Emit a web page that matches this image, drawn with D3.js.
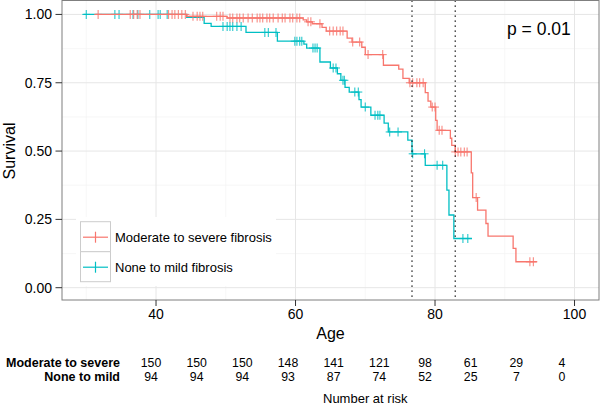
<!DOCTYPE html>
<html lang="en">
  <head>
    <meta charset="UTF-8" />
    <title>Survival by fibrosis group</title>
    <script src="https://d3js.org/d3.v7.min.js"></script>
    <style>
      body {
        margin: 0;
        padding: 0;
        background: #ffffff;
        font-family: "Liberation Sans", Arial, Helvetica, sans-serif;
      }
      svg text {
        font-family: "Liberation Sans", Arial, Helvetica, sans-serif;
      }
    </style>
  </head>
  <body>
    <div id="chart"></div>
    <script>
      const width = 600;
      const height = 406;

      // group names
      const groups = ["Moderate to severe fibrosis", "None to mild fibrosis"];
      const riskLabels = ["Moderate to severe", "None to mild"];
      const groupColors = ["#F8766D", "#00BFC4"];

      // step curve: [age, survival after the event]
      const redStart = 31.3;
      const redEnd = 94.6;
      const redDrops = [
        [44.4, 0.993], [50.2, 0.987], [61.1, 0.98], [61.6, 0.973], [62.4, 0.966],
        [63.8, 0.953], [64.4, 0.939], [67.4, 0.913], [68.1, 0.899], [69.5, 0.88],
        [70.0, 0.853], [72.6, 0.814], [74.8, 0.8], [75.4, 0.766], [76.3, 0.75],
        [78.6, 0.714], [79.0, 0.683], [79.4, 0.661], [80.1, 0.612], [80.3, 0.576],
        [82.2, 0.547], [82.4, 0.521], [82.9, 0.497], [85.2, 0.42], [85.4, 0.33],
        [86.1, 0.284], [87.3, 0.235], [87.6, 0.189], [91.2, 0.144], [91.6, 0.095]
      ];
      const redCensor = [
        31.7, 36.3, 36.8, 37.3, 37.7, 41.8, 42.3, 42.7, 43.2, 43.7, 44.2, 45.3,
        45.9, 46.3, 46.7, 48.7, 49.2, 49.6, 50.6, 51.0, 51.6, 52.0, 52.5, 53.2,
        53.8, 54.5, 54.9, 55.3, 55.9, 56.3, 56.8, 57.5, 58.1, 58.5, 59.2, 59.6,
        60.2, 60.6, 61.8, 62.2, 63.5, 64.9, 65.4, 65.9, 66.4, 66.8, 68.2, 69.2,
        70.4, 72.5, 76.4, 76.8, 77.4, 77.8, 78.3, 79.6, 80.0, 80.6, 81.0, 82.9,
        83.3, 83.7, 84.2, 84.6, 85.9, 93.6, 94.1
      ];

      const tealStart = 29.6;
      const tealEnd = 85.3;
      const tealDrops = [
        [44.4, 0.989], [46.9, 0.967], [47.9, 0.956], [52.9, 0.934], [57.4, 0.902],
        [61.2, 0.891], [61.6, 0.877], [63.5, 0.826], [65.0, 0.804], [66.0, 0.783],
        [66.5, 0.759], [67.1, 0.733], [67.7, 0.716], [69.1, 0.688], [69.4, 0.661],
        [70.8, 0.631], [72.7, 0.602], [73.3, 0.57], [76.1, 0.54], [76.7, 0.49],
        [78.6, 0.448], [81.7, 0.357], [82.0, 0.266], [82.7, 0.18]
      ];
      const tealCensor = [
        30.0, 34.1, 34.7, 36.7, 37.4, 39.1, 40.3, 40.6, 41.6, 49.6, 50.2, 50.6,
        51.0, 51.6, 52.2, 55.6, 56.1, 57.2, 59.9, 60.2, 60.6, 60.9, 62.5, 62.8,
        63.1, 65.4, 65.8, 66.8, 67.0, 68.5, 69.0, 70.0, 71.4, 71.8, 72.1, 73.5,
        74.7, 76.8, 78.5, 80.3, 81.1, 84.0, 84.7
      ];

      // median survival reference lines
      const medianAges = [76.7, 82.9];

      const xTicks = [40, 60, 80, 100];
      const xMinor = [30, 50, 70, 90];
      const yTicks = [0, 0.25, 0.5, 0.75, 1];
      const yMinor = [0.125, 0.375, 0.625, 0.875];

      // number at risk table
      const riskRed = [150, 150, 150, 148, 141, 121, 98, 61, 29, 4];
      const riskTeal = [94, 94, 94, 93, 87, 74, 52, 25, 7, 0];

      const pLabel = "p = 0.01";

      const panel = { left: 62, right: 599, top: 0.5, bottom: 300 };

      const x = d3.scaleLinear().domain([26.52, 103.51]).range([panel.left, panel.right]);
      const y = d3.scaleLinear().domain([-0.045, 1.051]).range([panel.bottom, panel.top]);

      const svg = d3
        .select("#chart")
        .append("svg")
        .attr("width", width)
        .attr("height", height);

      // grid
      const grid = svg.append("g");
      grid
        .selectAll(".vminor")
        .data(xMinor)
        .enter()
        .append("line")
        .attr("x1", (d) => x(d))
        .attr("x2", (d) => x(d))
        .attr("y1", panel.top)
        .attr("y2", panel.bottom)
        .attr("stroke", "#f3f3f3")
        .attr("stroke-width", 0.7);
      grid
        .selectAll(".hminor")
        .data(yMinor)
        .enter()
        .append("line")
        .attr("x1", panel.left)
        .attr("x2", panel.right)
        .attr("y1", (d) => y(d))
        .attr("y2", (d) => y(d))
        .attr("stroke", "#f3f3f3")
        .attr("stroke-width", 0.7);
      grid
        .selectAll(".vmajor")
        .data(xTicks)
        .enter()
        .append("line")
        .attr("x1", (d) => x(d))
        .attr("x2", (d) => x(d))
        .attr("y1", panel.top)
        .attr("y2", panel.bottom)
        .attr("stroke", "#e6e6e6")
        .attr("stroke-width", 1);
      grid
        .selectAll(".hmajor")
        .data(yTicks)
        .enter()
        .append("line")
        .attr("x1", panel.left)
        .attr("x2", panel.right)
        .attr("y1", (d) => y(d))
        .attr("y2", (d) => y(d))
        .attr("stroke", "#e6e6e6")
        .attr("stroke-width", 1);

      // curves
      function survivalAt(drops, t) {
        let s = 1;
        drops.forEach((d) => {
          if (d[0] <= t) s = d[1];
        });
        return s;
      }

      const series = [
        { start: redStart, end: redEnd, drops: redDrops, censor: redCensor, color: groupColors[0] },
        { start: tealStart, end: tealEnd, drops: tealDrops, censor: tealCensor, color: groupColors[1] }
      ];

      const line = d3
        .line()
        .x((d) => x(d[0]))
        .y((d) => y(d[1]))
        .curve(d3.curveStepAfter);

      // draw teal first so red sits on top where they overlap
      series
        .slice()
        .reverse()
        .forEach((s) => {
          const pts = [[s.start, 1]].concat(s.drops);
          pts.push([s.end, s.drops[s.drops.length - 1][1]]);
          svg
            .append("path")
            .datum(pts)
            .attr("d", line)
            .attr("fill", "none")
            .attr("stroke", s.color)
            .attr("stroke-width", 1.3);

          const marks = svg.append("g").attr("stroke", s.color).attr("stroke-width", 1.1).attr("opacity", 0.85);
          s.censor.forEach((t) => {
            const cx = x(t);
            const cy = y(survivalAt(s.drops, t));
            marks.append("line").attr("x1", cx - 4).attr("x2", cx + 4).attr("y1", cy).attr("y2", cy);
            marks.append("line").attr("x1", cx).attr("x2", cx).attr("y1", cy - 4.5).attr("y2", cy + 4.5);
          });
        });

      // dotted median lines
      svg
        .selectAll(".median")
        .data(medianAges)
        .enter()
        .append("line")
        .attr("x1", (d) => x(d))
        .attr("x2", (d) => x(d))
        .attr("y1", panel.top)
        .attr("y2", panel.bottom)
        .attr("stroke", "#000")
        .attr("stroke-width", 1.3)
        .attr("stroke-dasharray", "1.3 3.7");

      // panel border
      svg
        .append("rect")
        .attr("x", panel.left)
        .attr("y", panel.top)
        .attr("width", panel.right - panel.left)
        .attr("height", panel.bottom - panel.top)
        .attr("fill", "none")
        .attr("stroke", "#7f7f7f")
        .attr("stroke-width", 1);

      // axes ticks and labels
      const axisG = svg.append("g");
      yTicks.forEach((t) => {
        axisG
          .append("line")
          .attr("x1", panel.left - 6.5)
          .attr("x2", panel.left)
          .attr("y1", y(t))
          .attr("y2", y(t))
          .attr("stroke", "#333")
          .attr("stroke-width", 1);
        axisG
          .append("text")
          .attr("x", 52)
          .attr("y", y(t))
          .attr("dy", "0.36em")
          .attr("text-anchor", "end")
          .attr("font-size", "14px")
          .attr("fill", "#000")
          .text(d3.format(".2f")(t));
      });
      xTicks.forEach((t) => {
        axisG
          .append("line")
          .attr("x1", x(t))
          .attr("x2", x(t))
          .attr("y1", panel.bottom)
          .attr("y2", panel.bottom + 6)
          .attr("stroke", "#333")
          .attr("stroke-width", 1);
        axisG
          .append("text")
          .attr("x", x(t))
          .attr("y", 319)
          .attr("text-anchor", "middle")
          .attr("font-size", "14px")
          .attr("fill", "#000")
          .text(t);
      });

      svg
        .append("text")
        .attr("transform", "translate(15,151) rotate(-90)")
        .attr("text-anchor", "middle")
        .attr("font-size", "16px")
        .text("Survival");

      svg
        .append("text")
        .attr("x", (panel.left + panel.right) / 2)
        .attr("y", 339)
        .attr("text-anchor", "middle")
        .attr("font-size", "16px")
        .text("Age");

      svg
        .append("text")
        .attr("x", 507)
        .attr("y", 35)
        .attr("font-size", "17.5px")
        .text(pLabel);

      // legend
      const legend = svg.append("g");
      legend
        .append("rect")
        .attr("x", 76)
        .attr("y", 217)
        .attr("width", 200)
        .attr("height", 69)
        .attr("fill", "#fff");
      groups.forEach((g, i) => {
        const ky = 221.7 + i * 30;
        legend
          .append("rect")
          .attr("x", 80.5)
          .attr("y", ky)
          .attr("width", 30)
          .attr("height", 30)
          .attr("fill", "#fff")
          .attr("stroke", "#cccccc")
          .attr("stroke-width", 1);
        legend
          .append("line")
          .attr("x1", 83)
          .attr("x2", 108)
          .attr("y1", ky + 15.5)
          .attr("y2", ky + 15.5)
          .attr("stroke", groupColors[i])
          .attr("stroke-width", 1.2);
        legend
          .append("line")
          .attr("x1", 95.5)
          .attr("x2", 95.5)
          .attr("y1", ky + 10)
          .attr("y2", ky + 21)
          .attr("stroke", groupColors[i])
          .attr("stroke-width", 1.2);
        legend
          .append("text")
          .attr("x", 115)
          .attr("y", ky + 20)
          .attr("font-size", "13px")
          .text(g);
      });

      // number at risk table
      const col = d3
        .scalePoint()
        .domain(d3.range(riskRed.length))
        .range([151, 562]);
      const table = svg.append("g").attr("font-size", "12px");
      [riskRed, riskTeal].forEach((row, i) => {
        const by = 367 + i * 13.5;
        table
          .append("text")
          .attr("x", 120)
          .attr("y", by)
          .attr("text-anchor", "end")
          .attr("font-weight", "bold")
          .attr("font-size", "12.5px")
          .text(riskLabels[i]);
        table
          .selectAll(".n" + i)
          .data(row)
          .enter()
          .append("text")
          .attr("x", (d, j) => col(j))
          .attr("y", by)
          .attr("text-anchor", "middle")
          .attr("font-size", "12.3px")
          .text((d) => d);
      });
      svg
        .append("text")
        .attr("x", 323)
        .attr("y", 403)
        .attr("font-size", "13px")
        .text("Number at risk");
    </script>
  </body>
</html>
